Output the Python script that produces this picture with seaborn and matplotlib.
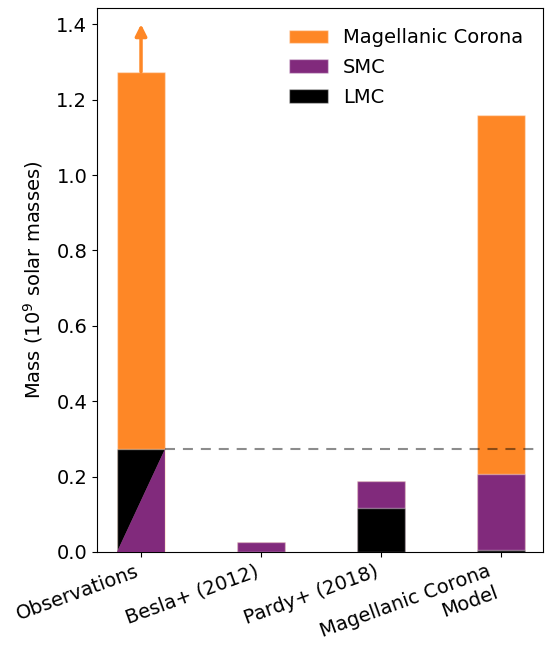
import numpy as np
import pandas as pd
import matplotlib
matplotlib.use("Agg")
import matplotlib.pyplot as plt
import seaborn as sns
from matplotlib.patches import Patch

# ---- data (10^9 solar masses) ----
categories = ["Observations", "Besla+ (2012)", "Pardy+ (2018)", "Magellanic Corona\nModel"]
lmc = [np.nan, 0.0, 0.117, 0.005]
smc = [np.nan, 0.026, 0.071, 0.203]
corona = [1.000, 0.0, 0.0, 0.951]
obs_clouds = 0.274      # combined LMC+SMC for observations (split unknown)
obs_lower_limit_arrow = 1.40
ref_line = 0.274

ORANGE = "#FE8726"
PURPLE = "#812A7C"
BLACK = "#000000"

plt.rcParams["font.size"] = 14

base = np.array([obs_clouds if np.isnan(l) else l + s for l, s in zip(lmc, smc)])
tot_corona = base + np.array(corona)
cum_smc = np.array([np.nan if np.isnan(s) else l + s for l, s in zip(lmc, smc)])
cum_lmc = np.array(lmc)

df = pd.DataFrame({"cat": categories, "corona": tot_corona, "smc": cum_smc, "lmc": cum_lmc})

fig = plt.figure(figsize=(5.47, 6.51), dpi=100)
ax = fig.add_axes([0.1773, 0.1521, 0.8154, 0.8356])

edge = dict(edgecolor=(1, 1, 1, 0.4), linewidth=1)
W = 0.4
sns.barplot(data=df, x="cat", y="corona", color=ORANGE, saturation=1, width=W, ax=ax, **edge)
sns.barplot(data=df, x="cat", y="smc", color=PURPLE, saturation=1, width=W, ax=ax, **edge)
sns.barplot(data=df, x="cat", y="lmc", color=BLACK, saturation=1, width=W, ax=ax, **edge)

# observations: unknown split shown as diagonal
x0, x1 = 0 - W / 2, 0 + W / 2
ax.fill([x0, x0, x1], [0, obs_clouds, obs_clouds], color=BLACK, edgecolor=(1, 1, 1, 0.4), lw=1, zorder=3)
ax.fill([x0, x1, x1], [0, 0, obs_clouds], color=PURPLE, edgecolor=(1, 1, 1, 0.0), lw=0, zorder=3)
ax.plot([x1, x1], [0, obs_clouds], color=(1, 1, 1, 0.4), lw=1, zorder=3.1)

# lower-limit arrow
ax.annotate("", xy=(0, obs_lower_limit_arrow), xytext=(0, tot_corona[0]),
            arrowprops=dict(arrowstyle="-|>", color=ORANGE, lw=2.5, mutation_scale=17,
                            shrinkA=0, shrinkB=0), zorder=4)

ax.plot([x1, 3.28], [ref_line, ref_line], color="k", alpha=0.45, lw=1.5,
        dashes=(4.8, 3.8), zorder=5)

ax.set_xlim(-0.367, 3.35)
ax.set_ylim(0, 1.443)
ax.set_yticks(np.arange(0, 1.41, 0.2))
ax.set_xlabel("")
ax.set_ylabel("Mass (10$^9$ solar masses)", labelpad=8)
ax.set_xticks(range(len(categories)))
ax.set_xticklabels(categories, rotation=20, ha="right")

handles = [Patch(facecolor=ORANGE, **edge, label="Magellanic Corona"),
           Patch(facecolor=PURPLE, **edge, label="SMC"),
           Patch(facecolor=BLACK, **edge, label="LMC")]
ax.legend(handles=handles, loc="upper right", frameon=False, fontsize=14,
          labelspacing=0.55, bbox_to_anchor=(0.995, 0.995))

fig.savefig("out.png", dpi=100)
